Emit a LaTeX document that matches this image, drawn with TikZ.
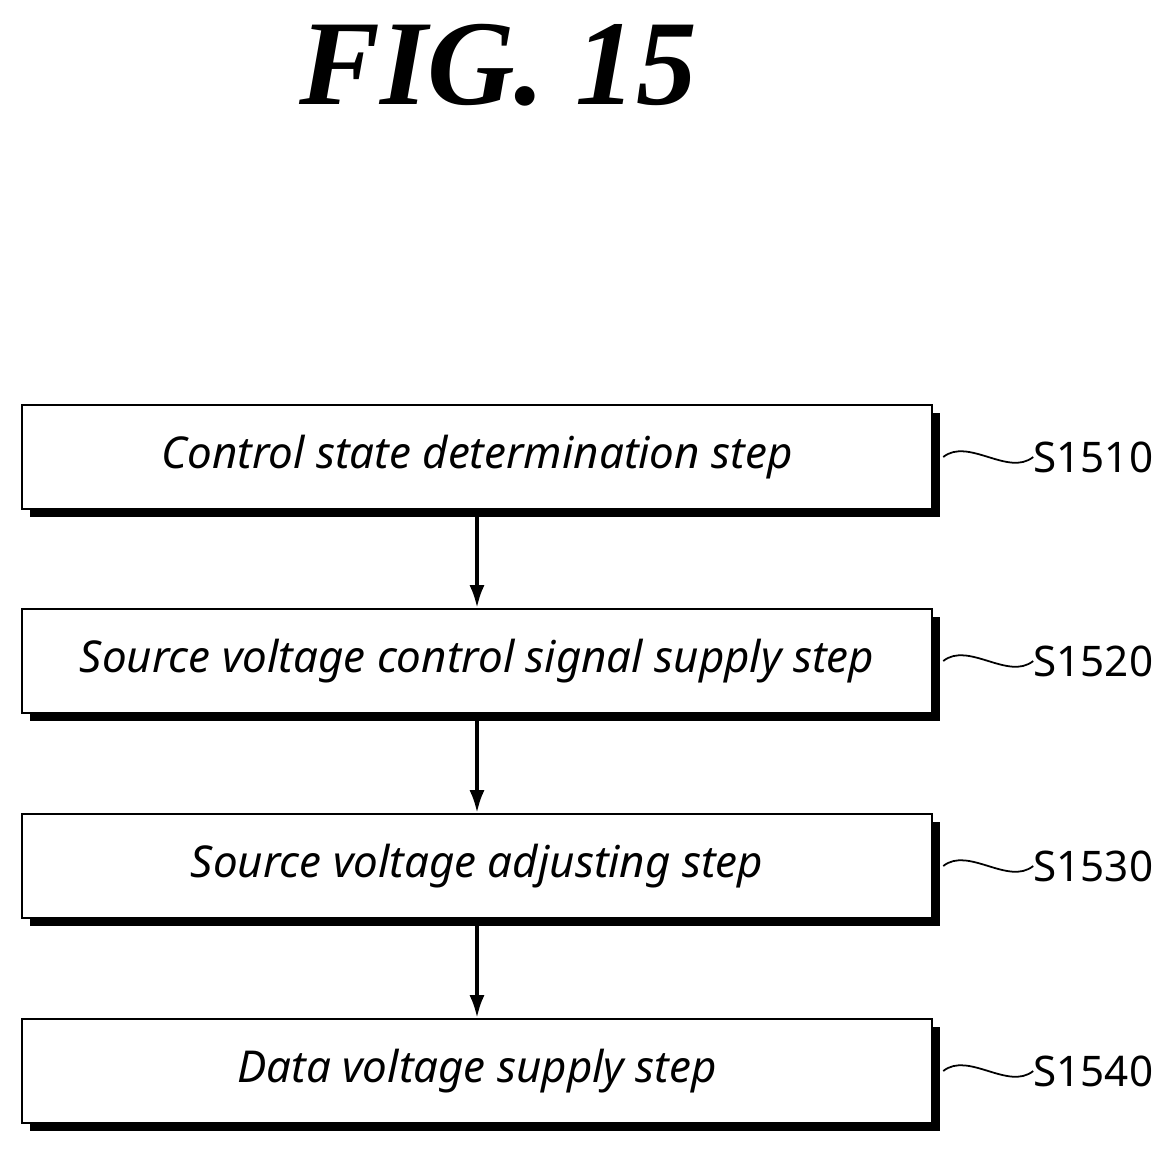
\documentclass[tikz,border=0pt]{standalone}
\usepackage{fontspec}
\setmainfont{Liberation Serif}
\newfontfamily\stepfont{Noto Sans}
\usetikzlibrary{positioning,shadows,arrows.meta}
\begin{document}
\begin{tikzpicture}[x=0.02cm,y=-0.02cm,
  stepbox/.style={draw,line width=1.5pt,fill=white,minimum width=18.2cm,minimum height=2.08cm,
    font=\stepfont\itshape\fontsize{25}{30}\selectfont,
    drop shadow={shadow xshift=0.16cm,shadow yshift=-0.16cm,opacity=1,fill=black}},
  lbl/.style={font=\stepfont\fontsize{24}{29}\selectfont,anchor=west,inner sep=0pt},
  wave/.style={line width=1pt},
  arr/.style={line width=1.8pt,-{Latex[length=0.45cm,width=0.3cm]}}]
  \useasboundingbox (0,0) rectangle (1169,1154);
  \node (title) at (498,65) {\bfseries\itshape\fontsize{69}{78}\selectfont FIG. 15};
  \node[stepbox] (s1) at (477,457) {Control state determination step};
  \node[stepbox] (s2) at (477,661) {Source voltage control signal supply step};
  \node[stepbox] (s3) at (477,866) {Source voltage adjusting step};
  \node[stepbox] (s4) at (477,1071) {Data voltage supply step};
  % step labels
  \foreach \n/\t in {s1/S1510,s2/S1520,s3/S1530,s4/S1540}{
    \node[lbl] (\n l) at ([xshift=2.0cm]\n.east) {\t};
    \draw[wave] ([xshift=0.2cm]\n.east) .. controls ++(0.5cm,0.4cm) and ++(-0.5cm,-0.4cm) .. (\n l.west);
  }
  \draw[arr] (s1) -- (s2);
  \draw[arr] (s2) -- (s3);
  \draw[arr] (s3) -- (s4);
\end{tikzpicture}
\end{document}
